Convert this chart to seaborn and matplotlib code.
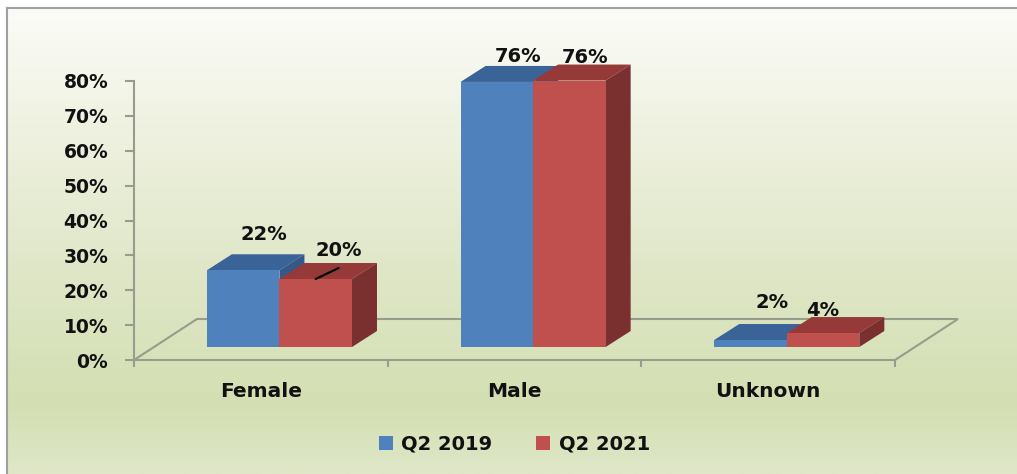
import numpy as np
import matplotlib
matplotlib.use("Agg")
import matplotlib.pyplot as plt
from matplotlib.colors import LinearSegmentedColormap
from matplotlib.patches import Polygon
import pandas as pd
import seaborn as sns

# chart values
categories = ["Female", "Male", "Unknown"]
series_names = ["Q2 2019", "Q2 2021"]
q2_2019 = [22, 76, 2]
q2_2021 = [19.5, 76.4, 4]
labels_2019 = ["22%", "76%", "2%"]
labels_2021 = ["20%", "76%", "4%"]
y_ticks = [0, 10, 20, 30, 40, 50, 60, 70, 80]

# styles and layout (pixels of the 1017x474 figure)
W, H = 1017, 474
AX_LEFT, AX_RIGHT, AX_TOP, AX_BOTTOM = 134, 895, 81, 360
BAR_SHIFT_X, BAR_SHIFT_Y = 18.6, 13  # bars stand inside the floor
DEPTH_X, DEPTH_Y = 25, 16            # depth of a bar
FLOOR_X, FLOOR_Y = 63, 41            # depth of the floor
front_colors = ["#4f81bd", "#c0504d"]
top_colors = ["#3a6498", "#953a38"]
side_colors = ["#34588a", "#7a302f"]
line_color = "#989c8c"
label_shift = [[(21, 36), (21, 25), (22, 38)],
               [(23, 28), (16, 23), (0, 23)]]

sns.set_theme(style="white")
plt.rcParams["font.family"] = ["DejaVu Sans"]
plt.rcParams["font.weight"] = "bold"

fig = plt.figure(figsize=(W / 100, H / 100), dpi=100, facecolor="white")

#################################################
#   BACKGROUND PANEL    -------------------------
#################################################
# panel runs off the right and bottom edges, only top and left borders show
bg = fig.add_axes([7 / W, 0, (W - 7) / W, 1 - 8 / H], zorder=0)
panel_cmap = LinearSegmentedColormap.from_list(
    "panel",
    [(0, "#fbfcf8"), (0.25, "#eff2e1"), (0.55, "#e0e7c9"), (0.85, "#d3dfb2"), (1, "#dfe7c8")],
)
bg.imshow(np.linspace(0, 1, 256)[:, None], aspect="auto", cmap=panel_cmap)
bg.set_xticks([])
bg.set_yticks([])
bg.spines["right"].set_visible(False)
bg.spines["bottom"].set_visible(False)
for side in ["left", "top"]:
    bg.spines[side].set_color("#a0a0a0")
    bg.spines[side].set_linewidth(1.5)

#################################################
#   BARS    --------------------------------------
#################################################
ax = fig.add_axes([AX_LEFT / W, 1 - AX_BOTTOM / H, (AX_RIGHT - AX_LEFT) / W,
                   (AX_BOTTOM - AX_TOP) / H], zorder=1)
ax.patch.set_alpha(0)

df = pd.DataFrame({
    "category": categories * 2,
    "series": [series_names[0]] * 3 + [series_names[1]] * 3,
    "share": q2_2019 + q2_2021,
})
sns.barplot(data=df, x="category", y="share", hue="series", palette=front_colors,
            width=0.572, gap=0, saturation=1, ax=ax, legend=True, linewidth=0)

ax.set_xlim(-0.5, 2.5)
ax.set_ylim(0, 80)
px_x = 3 / (AX_RIGHT - AX_LEFT)    # data units per pixel
px_y = 80 / (AX_BOTTOM - AX_TOP)

# floor of the 3D box
ax.add_patch(Polygon(
    [(-0.5, 0), (-0.5 + FLOOR_X * px_x, FLOOR_Y * px_y),
     (2.5 + FLOOR_X * px_x, FLOOR_Y * px_y), (2.5, 0)],
    closed=False, fill=False, edgecolor=line_color, linewidth=1.5, clip_on=False, zorder=1,
))

# move fronts into the floor, then add top and side faces
for h, container in enumerate(ax.containers):
    labels = [labels_2019, labels_2021][h]
    for i, bar in enumerate(container):
        bar.set_x(bar.get_x() + BAR_SHIFT_X * px_x)
        bar.set_y(BAR_SHIFT_Y * px_y)
        bar.set_zorder(3 + 2 * h)
        bar.set_clip_on(False)
        x0, x1 = bar.get_x(), bar.get_x() + bar.get_width()
        y0, y1 = bar.get_y(), bar.get_y() + bar.get_height()
        dx, dy = DEPTH_X * px_x, DEPTH_Y * px_y
        ax.add_patch(Polygon([(x0, y1), (x0 + dx, y1 + dy), (x1 + dx, y1 + dy), (x1, y1)],
                             facecolor=top_colors[h], edgecolor="none", clip_on=False, zorder=2 + 2 * h))
        ax.add_patch(Polygon([(x1, y0), (x1 + dx, y0 + dy), (x1 + dx, y1 + dy), (x1, y1)],
                             facecolor=side_colors[h], edgecolor="none", clip_on=False, zorder=2 + 2 * h))
        ax.annotate(labels[i], xy=((x0 + x1) / 2, y1), xytext=label_shift[h][i],
                    textcoords="offset pixels", ha="center", va="center", fontsize=14,
                    fontweight="bold", color="#111111", annotation_clip=False, zorder=8)

# leader line of the 20% label
red_female = ax.containers[1][0]
ax.annotate("", xy=(red_female.get_x() + red_female.get_width() / 2, red_female.get_y() + red_female.get_height()),
            xytext=(23, 11), textcoords="offset pixels",
            arrowprops=dict(arrowstyle="-", color="black", linewidth=1.5, shrinkA=0, shrinkB=0),
            annotation_clip=False, zorder=9)

#################################################
#   AXES    --------------------------------------
#################################################
sns.despine(ax=ax, top=True, right=True)
for side in ["left", "bottom"]:
    ax.spines[side].set_color(line_color)
    ax.spines[side].set_linewidth(1.5)
ax.set_xlabel("")
ax.set_ylabel("")
ax.set_yticks(y_ticks)
ax.set_yticklabels([f"{v}%" for v in y_ticks], fontsize=13.5, fontweight="bold", color="#111111")
ax.tick_params(axis="y", left=True, length=6.5, width=1.5, color=line_color, pad=12)
ax.set_xticks([0, 1, 2])
ax.set_xticklabels(categories, fontsize=14.5, fontweight="bold", color="#111111")
ax.set_xticks([-0.5, 0.5, 1.5, 2.5], minor=True)
ax.tick_params(axis="x", which="major", bottom=False, length=0, pad=16)
ax.tick_params(axis="x", which="minor", bottom=True, length=5, width=1.5, color=line_color)

#################################################
#   LEGEND    ------------------------------------
#################################################
ax.legend_.remove()
handles = [c[0] for c in ax.containers]
fig.legend(handles, series_names, ncol=2, frameon=False, fontsize=14, labelcolor="#111111",
           loc="center", bbox_to_anchor=(514.5 / W, 1 - 444 / H),
           handlelength=0.72, handleheight=0.72, handletextpad=0.45, columnspacing=2.25)

fig.savefig("out.png", dpi=100)
